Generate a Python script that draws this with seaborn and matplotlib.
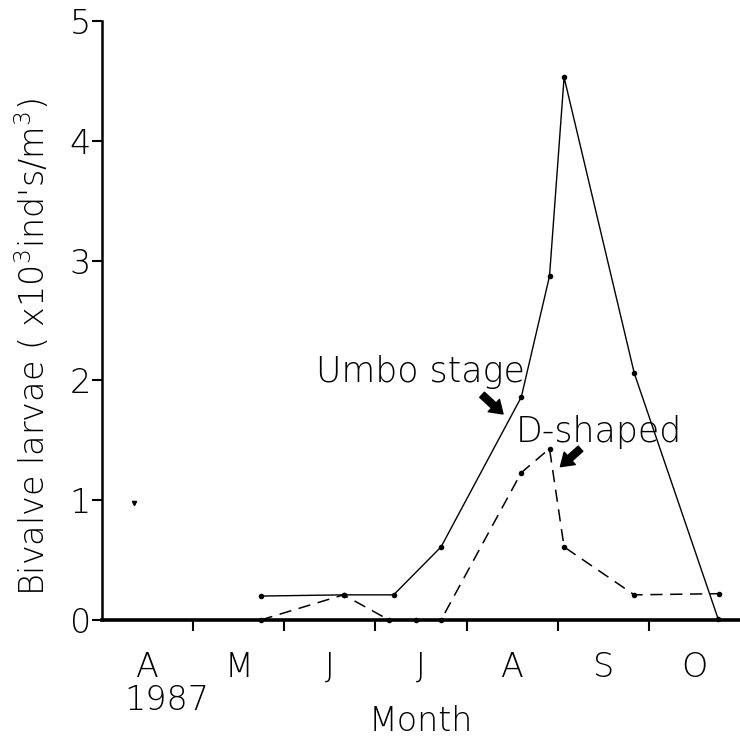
import matplotlib
matplotlib.use("Agg")
import matplotlib.pyplot as plt
import seaborn as sns
import pandas as pd

# ---- data (x in months since 1 April 1987) ----
months = ["A", "M", "J", "J", "A", "S", "O"]
month_centers = [0.5, 1.5, 2.5, 3.5, 4.5, 5.5, 6.5]
month_bounds = [1, 2, 3, 4, 5, 6]
yticks = [0, 1, 2, 3, 4, 5]

umbo_x = [1.74, 2.65, 3.20, 3.72, 4.60, 4.91, 5.07, 5.84, 6.76]
umbo_y = [0.20, 0.21, 0.21, 0.61, 1.86, 2.87, 4.53, 2.06, 0.01]

dshape_x = [1.74, 2.65, 3.15, 3.45, 3.72, 4.60, 4.91, 5.07, 5.84, 6.77]
dshape_y = [0.00, 0.21, 0.00, 0.00, 0.00, 1.23, 1.43, 0.61, 0.21, 0.22]

umbo = pd.DataFrame({"x": umbo_x, "y": umbo_y})
dshape = pd.DataFrame({"x": dshape_x, "y": dshape_y})

sns.set_style("ticks")
plt.rcParams["font.family"] = ["DejaVu Sans"]
plt.rcParams["font.weight"] = "light"
plt.rcParams["text.color"] = "black"
plt.rcParams["axes.labelcolor"] = "black"
plt.rcParams["axes.labelweight"] = "light"
plt.rcParams["xtick.color"] = "black"
plt.rcParams["ytick.color"] = "black"
plt.rcParams["axes.edgecolor"] = "black"

FS = 24

fig = plt.figure(figsize=(7.4, 7.42), dpi=100)
ax = fig.add_axes([0.1378, 0.1644, 0.8622, 0.8073])

sns.lineplot(data=umbo, x="x", y="y", ax=ax, color="black", lw=1.0,
             marker="o", markersize=4, markeredgewidth=0,
             sort=False, estimator=None, clip_on=False)
sns.lineplot(data=dshape, x="x", y="y", ax=ax, color="black", lw=1.1,
             linestyle=(0, (8, 5)), marker="o", markersize=4,
             markeredgewidth=0, sort=False, estimator=None, clip_on=False)

ax.set_xlim(0, 7)
ax.set_ylim(0, 5)
sns.despine(ax=ax)
ax.spines["left"].set_linewidth(1.8)
ax.spines["bottom"].set_linewidth(2.6)

ax.set_yticks(yticks)
ax.set_yticklabels([str(v) for v in yticks])
ax.tick_params(axis="y", direction="out", length=7, width=1.5,
               labelsize=FS, pad=1)

ax.set_xticks(month_bounds)
ax.set_xticklabels([""] * len(month_bounds))
ax.set_xticks(month_centers, minor=True)
ax.set_xticklabels(months, minor=True)
ax.tick_params(axis="x", which="major", direction="out", length=8, width=1.5)
ax.tick_params(axis="x", which="minor", length=0, labelsize=FS, pad=22)

ax.set_xlabel("")
ax.set_ylabel("Bivalve larvae ( x10$^3$ind's/m$^3$)", fontsize=FS)
ax.yaxis.set_label_coords(-0.078, 0.456)

ax.text(0.71, -0.135, "1987", transform=ax.get_xaxis_transform(),
        ha="center", va="center", fontsize=FS)
ax.text(3.5, -0.17, "Month", transform=ax.get_xaxis_transform(),
        ha="center", va="center", fontsize=FS)

ax.text(2.35, 1.99, "Umbo stage", ha="left", va="baseline", fontsize=FS + 1)
ax.text(4.54, 1.49, "D-shaped", ha="left", va="baseline", fontsize=FS + 1)

arrow_kw = dict(arrowstyle="simple,head_width=1.2,head_length=0.9,tail_width=0.5",
                color="black", shrinkA=0, shrinkB=0)
ax.annotate("", xy=(4.40, 1.72), xytext=(4.17, 1.88), arrowprops=arrow_kw)
ax.annotate("", xy=(5.03, 1.28), xytext=(5.25, 1.43), arrowprops=arrow_kw)

ax.plot([0.35], [0.98], marker="v", color="black", markersize=3)

fig.savefig("out.png", dpi=100)
